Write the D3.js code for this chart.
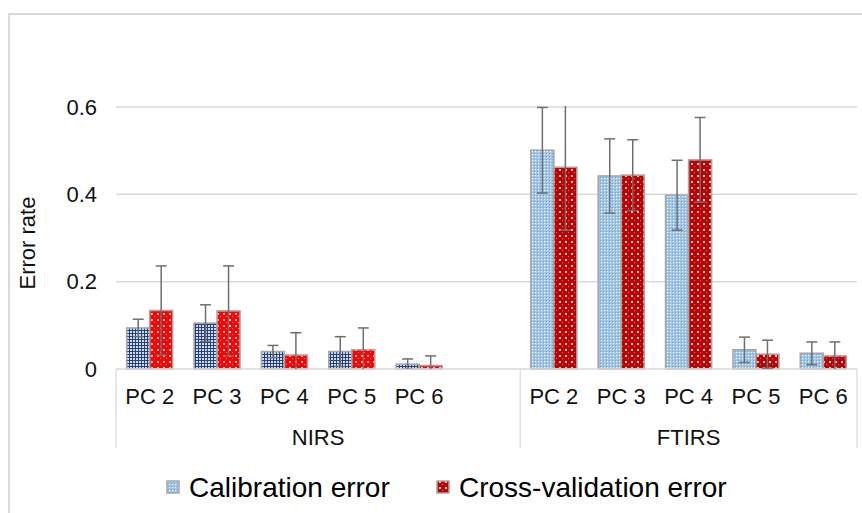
<!DOCTYPE html>
<html><head><meta charset="utf-8">
<script src="https://cdn.jsdelivr.net/npm/d3@7"></script>
<style>
html,body{margin:0;padding:0;background:#fff;}
svg{display:block;font-family:"Liberation Sans",Arial,sans-serif;}
</style></head>
<body><svg id="chart" width="862" height="513"></svg>
<script>
const categories = ["PC 2","PC 3","PC 4","PC 5","PC 6"];
const groups = ["NIRS","FTIRS"];
const seriesNames = ["Calibration error","Cross-validation error"];
const nirsCal    = [0.094, 0.105, 0.040, 0.040, 0.011];
const nirsCalErr = [0.020, 0.042, 0.014, 0.034, 0.012];
const nirsCV     = [0.134, 0.133, 0.032, 0.044, 0.008];
const nirsCVErr  = [0.102, 0.103, 0.051, 0.050, 0.022];
const ftirsCal    = [0.501, 0.442, 0.398, 0.044, 0.036];
const ftirsCalErr = [0.098, 0.085, 0.080, 0.029, 0.026];
const ftirsCV     = [0.462, 0.444, 0.479, 0.034, 0.030];
const ftirsCVErr  = [0.144, 0.081, 0.097, 0.032, 0.032];
const yTicks = [0, 0.2, 0.4, 0.6];
const yTickLabels = ["0","0.2","0.4","0.6"];

(function(){
const svg = d3.select("#chart");
const defs = svg.append("defs");

function pat(id, w, bg, dots){
  const p = defs.append("pattern").attr("id",id).attr("patternUnits","userSpaceOnUse")
    .attr("width",w).attr("height",w);
  p.append("rect").attr("width",w).attr("height",w).attr("fill",bg);
  dots.forEach(d=>p.append("rect").attr("x",d[0]).attr("y",d[1]).attr("width",d[2]).attr("height",d[3]).attr("fill",d[4]));
}
pat("pNC",3,"#24407a",[[1,1,2,2,"#d0dcf0"]]);
pat("pNV",6,"#ff0000",[[1,1,2,2,"#ffd0d0"],[4,4,1,1,"#ff9a9a"]]);
pat("pFC",3,"#9fc5ea",[[1,1,1,1,"#ffffff"],[0,0,1,1,"#6fa3d8"]]);
pat("pFV",6,"#c00000",[[1,1,2,2,"#ffd6d6"],[4,4,1,1,"#e07070"]]);

svg.append("rect").attr("x",9).attr("y",14).attr("width",870).attr("height",520)
  .attr("fill","none").attr("stroke","#d9d9d9").attr("stroke-width",2);

const pL = 116, pR = 857, pT = 107, pB = 369;
const slots = [];
groups.forEach((g,gi)=>{
  categories.forEach(c=>slots.push(g+"|"+c));
  if(gi===0) slots.push("gap");
});
const x = d3.scaleBand().domain(slots).range([pL,pR]).padding(0);
const y = d3.scaleLinear().domain([0,0.6]).range([pB,pT]);
const bw = x.bandwidth();

svg.append("g").selectAll("line").data(yTicks.filter(t=>t>0)).join("line")
  .attr("x1",pL).attr("x2",pR).attr("y1",d=>y(d)).attr("y2",d=>y(d))
  .attr("stroke","#d9d9d9").attr("stroke-width",1.5);

const yAxis = d3.axisLeft(y).tickValues(yTicks).tickFormat((d,i)=>yTickLabels[i]).tickSize(0).tickPadding(0);
const ya = svg.append("g").attr("transform",`translate(97,0)`).call(yAxis);
ya.select(".domain").remove();
ya.selectAll("text").attr("font-size",22).attr("fill","#111").attr("font-family","Liberation Sans, Arial, sans-serif");

svg.append("text").attr("transform","translate(35,243) rotate(-90)").attr("text-anchor","middle")
  .attr("font-size",22).attr("fill","#111").text("Error rate");

const rows = [];
const dataSets = {
  NIRS:[nirsCal,nirsCalErr,nirsCV,nirsCVErr,"pNC","pNV"],
  FTIRS:[ftirsCal,ftirsCalErr,ftirsCV,ftirsCVErr,"pFC","pFV"]
};
groups.forEach(g=>{
  const [cal,calE,cv,cvE,p1,p2] = dataSets[g];
  categories.forEach((c,i)=>{
    const cx = x(g+"|"+c)+bw/2;
    rows.push({cx, side:-1, v:cal[i], e:calE[i], fill:`url(#${p1})`});
    rows.push({cx, side:0, v:cv[i], e:cvE[i], fill:`url(#${p2})`});
  });
});
const barW = 23;
svg.append("g").selectAll("rect").data(rows).join("rect")
  .attr("x",d=>d.cx + (d.side<0 ? -barW : 0))
  .attr("width",barW)
  .attr("y",d=>y(d.v)).attr("height",d=>y(0)-y(d.v))
  .attr("fill",d=>d.fill).attr("stroke","#a6a6a6").attr("stroke-width",1.6);

svg.append("line").attr("x1",pL).attr("x2",pR).attr("y1",pB).attr("y2",pB)
  .attr("stroke","#d9d9d9").attr("stroke-width",1.5);

defs.append("clipPath").attr("id","plotClip").append("rect")
  .attr("x",pL).attr("y",pT-1).attr("width",pR-pL).attr("height",pB-pT+1);
const eg = svg.append("g").attr("clip-path","url(#plotClip)");
rows.forEach(d=>{
  const ex = d.cx + (d.side<0 ? -barW/2 : barW/2);
  const g = eg.append("g").attr("stroke","#6e6e6e").attr("stroke-width",1.5);
  g.append("line").attr("x1",ex).attr("x2",ex).attr("y1",y(d.v-d.e)).attr("y2",y(d.v+d.e));
  [d.v-d.e,d.v+d.e].forEach(t=>g.append("line").attr("x1",ex-5.5).attr("x2",ex+5.5).attr("y1",y(t)).attr("y2",y(t)));
});

const seps = [pL, x("gap")+bw, pR];
svg.append("g").selectAll("line").data(seps).join("line")
  .attr("x1",d=>d).attr("x2",d=>d).attr("y1",pB).attr("y2",448)
  .attr("stroke","#d9d9d9").attr("stroke-width",1.2);

svg.append("g").selectAll("text").data(slots.filter(s=>s!=="gap")).join("text")
  .attr("x",d=>x(d)+bw/2).attr("y",404).attr("text-anchor","middle")
  .attr("font-size",22).attr("fill","#111").text(d=>d.split("|")[1]);

const gSpans = [[pL, x("gap")+bw],[x("gap")+bw, pR]];
svg.append("g").selectAll("text").data(groups).join("text")
  .attr("x",(d,i)=>(gSpans[i][0]+gSpans[i][1])/2).attr("y",445).attr("text-anchor","middle")
  .attr("font-size",22).attr("fill","#111").text(d=>d);

const legX = [167, 437];
const lpat = ["pFC","pFV"];
const lg = svg.append("g");
seriesNames.forEach((s,i)=>{
  lg.append("rect").attr("x",legX[i]).attr("y",481).attr("width",12).attr("height",12)
    .attr("fill",`url(#${lpat[i]})`).attr("stroke","#a6a6a6").attr("stroke-width",1.5);
  lg.append("text").attr("x",legX[i]+22).attr("y",497).attr("font-size",28).attr("fill","#000").text(s);
});
})();
</script></body></html>
